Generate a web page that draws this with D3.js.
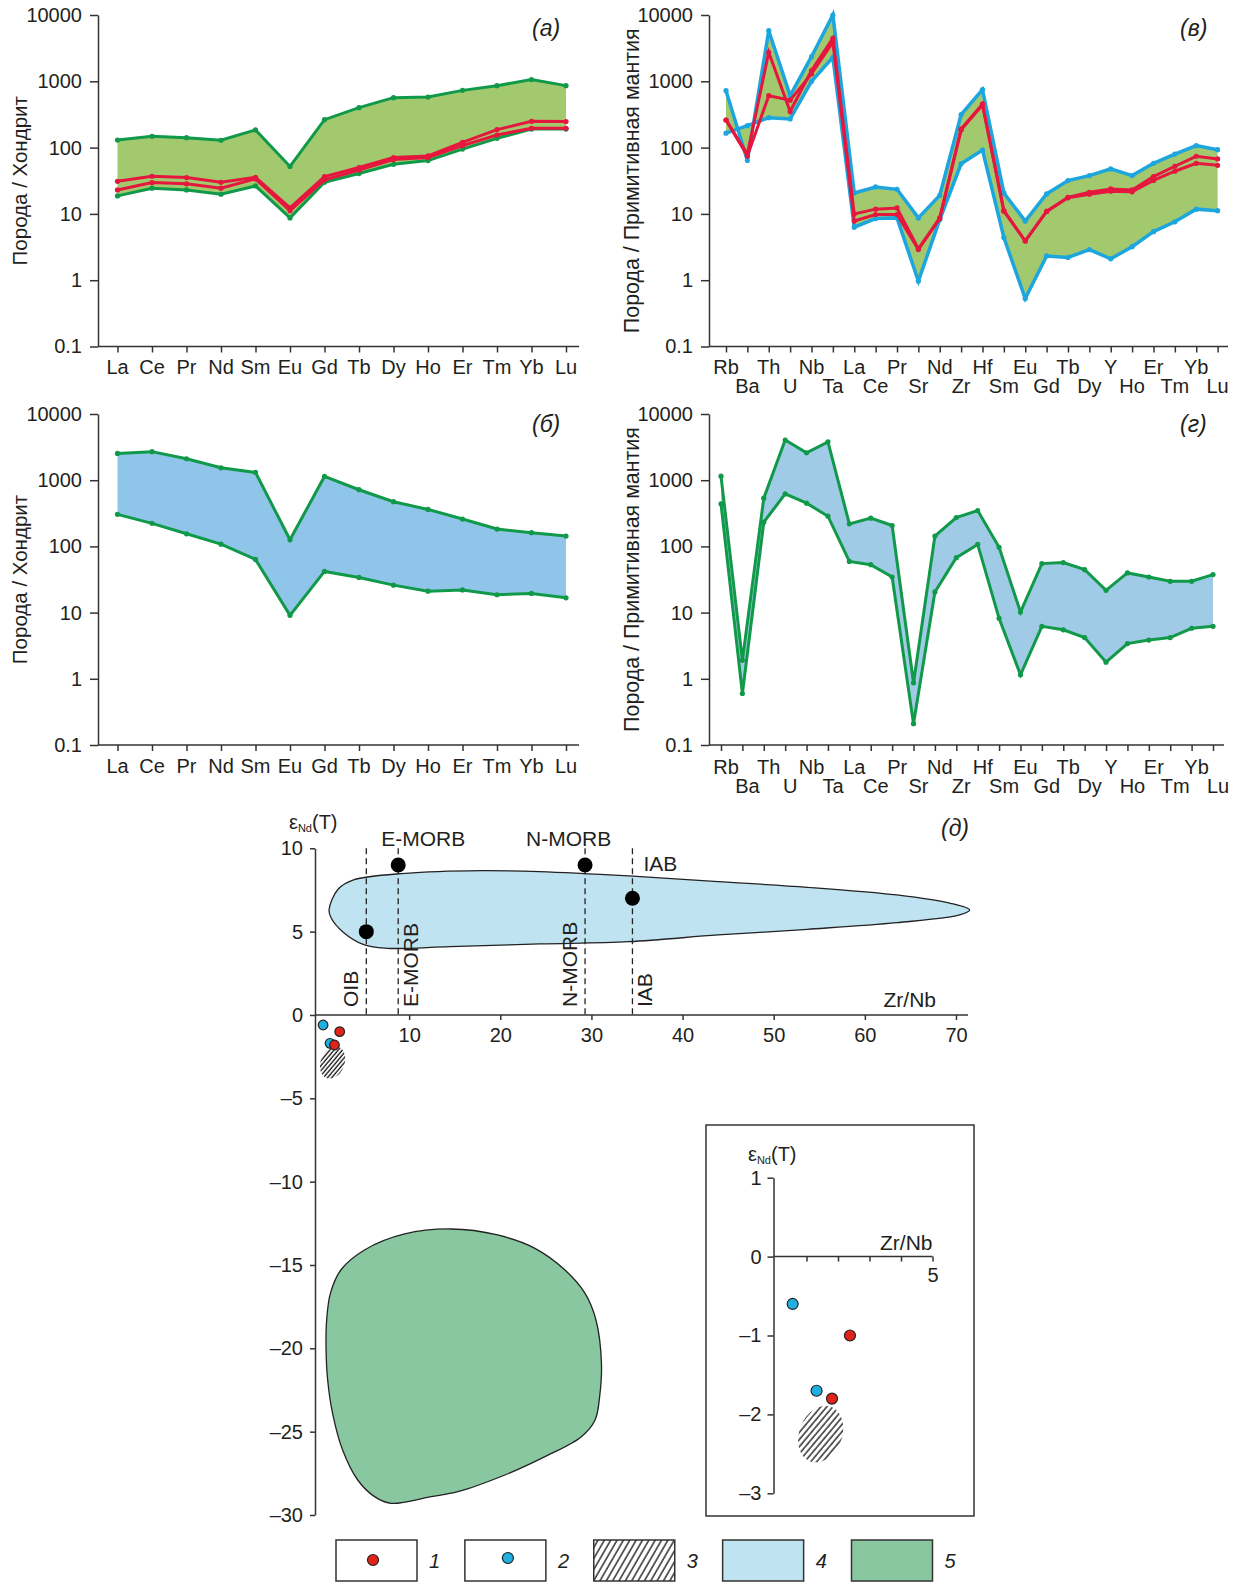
<!DOCTYPE html>
<html>
<head>
<meta charset="utf-8">
<script src="https://cdn.jsdelivr.net/npm/d3@7"></script>
<style>
  body { margin: 0; background: #fff; }
  svg { display: block; font-family: "Liberation Sans", Arial, sans-serif; }
</style>
</head>
<body>
<script>
// ---------- data ----------
const reeCats = ['La', 'Ce', 'Pr', 'Nd', 'Sm', 'Eu', 'Gd', 'Tb', 'Dy', 'Ho', 'Er', 'Tm', 'Yb', 'Lu'];
const spiderCats = ['Rb', 'Ba', 'Th', 'U', 'Nb', 'Ta', 'La', 'Ce', 'Pr', 'Sr', 'Nd', 'Zr', 'Hf', 'Sm',
    'Eu', 'Gd', 'Tb', 'Dy', 'Y', 'Ho', 'Er', 'Tm', 'Yb', 'Lu'];
const logTicks = [0.1, 1, 10, 100, 1000, 10000];

// (а) chondrite-normalised REE
const aGreenMax = [130, 148, 141, 129, 185, 52, 264, 400, 567, 580, 730, 860, 1060, 860];
const aGreenMin = [18.7, 24.4, 23, 19.8, 26.4, 8.7, 30, 40.6, 56, 63.7, 95, 138, 190, 190];
const aRed1 = [31, 37, 35.3, 30, 35.7, 12.3, 36.6, 50, 70.7, 74.9, 120, 187, 249, 247];
const aRed2 = [23, 29.7, 28.4, 24.4, 33.7, 11.2, 32.6, 46, 66, 70.7, 107, 155, 195, 195];

// (б)
const bMax = [2540, 2700, 2110, 1540, 1310, 126, 1140, 718, 473, 362, 259, 183, 161, 143];
const bMin = [305, 223, 155, 108, 63.6, 9.1, 41.9, 34, 26, 21.1, 22, 18.6, 19.5, 16.7];

// (в) primitive mantle normalised
const vBlueMax = [723, 64, 5800, 610, 2350, 10000, 20.7, 25.5, 23.5, 8.7, 19, 314, 750, 20.7,
    7.8, 20, 31.8, 37.8, 47.7, 37.8, 58, 80, 107, 93];
const vBlueMin = [165, 214, 283, 270, 1000, 2300, 6.3, 8.5, 8.7, 0.97, 8.2, 57, 92, 4.4,
    0.53, 2.32, 2.2, 2.9, 2.1, 3.2, 5.4, 7.6, 11.8, 11.2];
const vRed1 = [261, 80, 2740, 350, 1450, 4450, 10, 11.8, 12.3, 2.98, 8.7, 191, 455, 11.2,
    3.9, 10.9, 17.8, 21.2, 23.8, 23, 36.6, 52.3, 74, 67.5];
const vRed2 = [261, 75, 607, 520, 1290, 3900, 7.8, 9.8, 9.8, 2.9, 8.5, 185, 440, 11,
    3.9, 10.9, 17.5, 19.8, 22, 21.5, 32, 44, 58, 54];

// (г)
const gMax = [1150, 1.9, 535, 4050, 2600, 3800, 219, 267, 207, 0.87, 143, 273, 348, 97,
    10.2, 55, 57, 44.5, 21.7, 39.7, 34.5, 29.7, 29.7, 37.5];
const gMin = [440, 0.6, 232, 620, 450, 286, 59.4, 53, 34.5, 0.21, 20.5, 67.5, 107, 8.2,
    1.15, 6.2, 5.5, 4.2, 1.78, 3.4, 3.85, 4.2, 5.8, 6.2];

// (д) eNd(T) vs Zr/Nb
const xTicksD = [10, 20, 30, 40, 50, 60, 70];
const yTicksD = [-30, -25, -20, -15, -10, -5, 0, 5, 10];
const refNames = ['OIB', 'E-MORB', 'N-MORB', 'IAB'];
const refZrNb = [5.3, 8.8, 29.3, 34.5];
const refEps = [5, 9, 9, 7];
const sampleZrNb = [0.56, 1.32, 2.38, 1.81];
const sampleEps = [-0.6, -1.7, -1.0, -1.8];
const sampleType = [2, 2, 1, 1];
const field4 = [[1.21, 6.3], [2.2, 7.54], [3.9, 8.1], [9.6, 8.5], [17.9, 8.66], [24.3, 8.6], [34.1, 8.34],
    [43.9, 8.0], [53.7, 7.66], [63.5, 7.2], [69.4, 6.7], [71.5, 6.3], [70.4, 6.0], [63.5, 5.54],
    [53.7, 5.14], [43.9, 4.8], [34.1, 4.4], [24.3, 4.26], [14.5, 4.1], [7.6, 4.0], [5.1, 4.2],
    [2.7, 5.0], [1.46, 5.8]];
const field5 = [[14.6, -12.84], [9.5, -13.14], [5.1, -14.1], [2.5, -15.3], [1.36, -16.7], [0.95, -18.3],
    [0.88, -19.9], [1.06, -21.9], [1.6, -23.9], [2.7, -26.1], [4.36, -27.9], [6.2, -28.9], [8.0, -29.3],
    [12.4, -28.9], [15.35, -28.6], [20.5, -27.6], [24.9, -26.5], [28.9, -25.3], [30.4, -24.3],
    [30.9, -22.9], [31.1, -20.9], [30.5, -18.3], [29.3, -16.7], [27.1, -15.3], [23.8, -14.0], [19.7, -13.2]];
// hatched field 3: centre, half-axes (data units)
const field3Main = [1.6, -2.85, 1.3, 1.0];
const field3Inset = [1.45, -2.25, 0.68, 0.37];
const insetYTicks = [-3, -2, -1, 0, 1];
const insetXTicks = [1, 2, 3, 4, 5];
const legendNums = ['1', '2', '3', '4', '5'];

// ---------- colours ----------
const GREEN = '#11994a', LGREEN = '#a2c96e', RED = '#e5173f', BLUE = '#1da5de';
const AXIS = '#333', TXT = '#231f20';

const svg = d3.select('body').append('svg')
    .attr('width', 1237)
    .attr('height', 1582);

const defs = svg.append('defs');
function hatch(id, step, angle) {
    defs.append('pattern')
        .attr('id', id)
        .attr('patternUnits', 'userSpaceOnUse')
        .attr('width', step).attr('height', step)
        .attr('patternTransform', 'rotate(' + angle + ')')
        .call(p => {
            p.append('rect').attr('width', step).attr('height', step).attr('fill', '#fff');
            p.append('line').attr('x1', 1).attr('x2', 1).attr('y1', 0).attr('y2', step)
                .attr('stroke', '#111').attr('stroke-width', 1.3);
        });
}
hatch('hatchA', 3.2, 18);
hatch('hatchB', 4.6, 18);
hatch('hatchL', 5.5, 30);

function styleAxis(g) {
    g.attr('font-size', 20).attr('font-family', null);
    g.selectAll('path, line').attr('stroke', AXIS).attr('stroke-width', 1.5);
    g.selectAll('text').attr('fill', TXT);
}

function tag(x, y, letter) {
    svg.append('text')
        .attr('x', x).attr('y', y)
        .attr('font-size', 23)
        .attr('font-style', 'italic')
        .attr('fill', TXT)
        .text('(' + letter + ')');
}

// ---------- spider / REE panels ----------
function spider(p) {
    const g = svg.append('g');
    const y = d3.scaleLog().domain([0.1, 10000]).range([p.bottom, p.top]);
    const x = d3.scalePoint().domain(p.cats).range(p.xRange);

    g.append('g')
        .attr('transform', 'translate(' + p.axisX + ',0)')
        .call(d3.axisLeft(y).tickValues(logTicks).tickFormat(d => String(d))
            .tickSize(8).tickSizeOuter(0).tickPadding(8))
        .call(styleAxis);

    const xa = g.append('g')
        .attr('transform', 'translate(0,' + p.bottom + ')')
        .call(d3.axisBottom(x).tickSize(6).tickSizeOuter(0).tickFormat(''))
        .call(styleAxis);
    xa.select('.domain').remove();
    g.append('line')
        .attr('x1', p.axisX).attr('x2', p.axisEnd)
        .attr('y1', p.bottom).attr('y2', p.bottom)
        .attr('stroke', AXIS).attr('stroke-width', 1.5);

    g.selectAll('text.cat')
        .data(p.cats)
        .join('text')
        .attr('class', 'cat')
        .attr('x', d => x(d) + (p.labelShift || 0))
        .attr('y', (d, i) => p.labelY + (p.stagger && i % 2 ? p.stagger : 0))
        .attr('text-anchor', 'middle')
        .attr('font-size', 20)
        .attr('fill', TXT)
        .text(d => d);

    g.append('text')
        .attr('transform', 'translate(' + p.titleX + ',' + (p.top + p.bottom) / 2 + ') rotate(-90)')
        .attr('text-anchor', 'middle')
        .attr('font-size', p.titleSize)
        .attr('fill', TXT)
        .text(p.title);

    const area = d3.area()
        .x((d, i) => x(p.cats[i]))
        .y0(d => y(d[0]))
        .y1(d => y(d[1]));
    g.append('path')
        .datum(d3.zip(p.fill.min, p.fill.max))
        .attr('d', area)
        .attr('fill', p.fill.color);

    const line = d3.line()
        .x((d, i) => x(p.cats[i]))
        .y(d => y(d));
    p.lines.forEach(s => {
        g.append('path')
            .datum(s.v)
            .attr('d', line)
            .attr('fill', 'none')
            .attr('stroke', s.c)
            .attr('stroke-width', s.w);
        g.selectAll(null)
            .data(s.v)
            .join('circle')
            .attr('cx', (d, i) => x(p.cats[i]))
            .attr('cy', d => y(d))
            .attr('r', 2.6)
            .attr('fill', s.c);
    });
}

spider({
    cats: reeCats, xRange: [117.5, 566], axisX: 98, axisEnd: 579, top: 15, bottom: 346.5,
    labelY: 374, title: 'Порода / Хондрит', titleX: 27, titleSize: 20.5,
    fill: {min: aGreenMin, max: aGreenMax, color: LGREEN},
    lines: [{v: aGreenMax, c: GREEN, w: 3}, {v: aGreenMin, c: GREEN, w: 3},
        {v: aRed1, c: RED, w: 3}, {v: aRed2, c: RED, w: 3}]
});
tag(532, 36, 'а');

spider({
    cats: spiderCats, xRange: [726, 1217.6], axisX: 709, axisEnd: 1228, top: 15, bottom: 346.5,
    labelY: 374, stagger: 19, title: 'Порода / Примитивная мантия', titleX: 639, titleSize: 21.4,
    fill: {min: vBlueMin, max: vBlueMax, color: LGREEN},
    lines: [{v: vBlueMax, c: BLUE, w: 3.5}, {v: vBlueMin, c: BLUE, w: 3.5},
        {v: vRed1, c: RED, w: 3}, {v: vRed2, c: RED, w: 3}]
});
tag(1180, 36, 'в');

spider({
    cats: reeCats, xRange: [117.5, 566], axisX: 98, axisEnd: 579, top: 414, bottom: 745,
    labelY: 773, title: 'Порода / Хондрит', titleX: 27, titleSize: 20.5,
    fill: {min: bMin, max: bMax, color: '#8fc5e8'},
    lines: [{v: bMax, c: GREEN, w: 3}, {v: bMin, c: GREEN, w: 3}]
});
tag(532, 432, 'б');

spider({
    cats: spiderCats, xRange: [721, 1213], labelShift: 5, axisX: 709, axisEnd: 1224, top: 414, bottom: 745,
    labelY: 774, stagger: 19, title: 'Порода / Примитивная мантия', titleX: 639, titleSize: 21.4,
    fill: {min: gMin, max: gMax, color: '#a0cbe6'},
    lines: [{v: gMax, c: GREEN, w: 3}, {v: gMin, c: GREEN, w: 3}]
});
tag(1180, 432, 'г');

// ---------- (д) ----------
const dx = d3.scaleLinear().domain([0, 70]).range([318, 956]);
const dy = d3.scaleLinear().domain([-30, 10]).range([1515, 848.3]);
const minus = d => d < 0 ? '–' + (-d) : String(d);

const dg = svg.append('g');
const blob = (sx, sy) => d3.line().x(d => sx(d[0])).y(d => sy(d[1])).curve(d3.curveCatmullRomClosed);

dg.append('path')
    .datum(field5)
    .attr('d', blob(dx, dy))
    .attr('fill', '#88c79f')
    .attr('stroke', '#222')
    .attr('stroke-width', 1.3);

dg.append('path')
    .datum(field4)
    .attr('d', blob(dx, dy))
    .attr('fill', '#c0e3f2')
    .attr('stroke', '#222')
    .attr('stroke-width', 1.3);

dg.append('g')
    .attr('transform', 'translate(315,0)')
    .call(d3.axisLeft(dy).tickValues(yTicksD).tickFormat(minus).tickSize(5).tickSizeOuter(0).tickPadding(7))
    .call(styleAxis);

const dxa = dg.append('g')
    .attr('transform', 'translate(0,' + dy(0) + ')')
    .call(d3.axisBottom(dx).tickValues(xTicksD).tickSize(5).tickSizeOuter(0).tickPadding(8))
    .call(styleAxis);
dxa.select('.domain').remove();
dg.append('line')
    .attr('x1', 315).attr('x2', 968)
    .attr('y1', dy(0)).attr('y2', dy(0))
    .attr('stroke', AXIS).attr('stroke-width', 1.5);

// reference compositions: dashed lines, labels, dots
dg.selectAll('line.ref')
    .data(refZrNb)
    .join('line')
    .attr('x1', d => dx(d)).attr('x2', d => dx(d))
    .attr('y1', dy(10)).attr('y2', dy(0))
    .attr('stroke', '#222')
    .attr('stroke-width', 1.3)
    .attr('stroke-dasharray', '6,4');

// rotated labels next to the dashed lines
const rotOffset = [-8, 20, -8, 20];
dg.selectAll('text.rot')
    .data(refNames)
    .join('text')
    .attr('transform', (d, i) => 'translate(' + (dx(refZrNb[i]) + rotOffset[i]) + ',1007) rotate(-90)')
    .attr('font-size', 21)
    .attr('fill', TXT)
    .text(d => d);

// labels on top
const topOffset = [null, -17, -59, 11];
const topY = [null, 846, 846, 871];
refNames.forEach((n, i) => {
    if (topOffset[i] === null) return;
    dg.append('text')
        .attr('x', dx(refZrNb[i]) + topOffset[i])
        .attr('y', topY[i])
        .attr('font-size', 21)
        .attr('fill', TXT)
        .text(n);
});

dg.selectAll('circle.ref')
    .data(refZrNb)
    .join('circle')
    .attr('cx', d => dx(d))
    .attr('cy', (d, i) => dy(refEps[i]))
    .attr('r', 7.5)
    .attr('fill', '#000');

function ellipse(g, sx, sy, e, fill) {
    const cx = sx(e[0]), cy = sy(e[1]);
    g.append('ellipse')
        .attr('cx', cx).attr('cy', cy)
        .attr('rx', Math.abs(sx(e[2]) - sx(0)))
        .attr('ry', Math.abs(sy(e[3]) - sy(0)))
        .attr('transform', 'rotate(22,' + cx + ',' + cy + ')')
        .attr('fill', fill);
}

function samples(g, sx, sy, r) {
    g.selectAll(null)
        .data(sampleZrNb)
        .join('circle')
        .attr('cx', d => sx(d))
        .attr('cy', (d, i) => sy(sampleEps[i]))
        .attr('r', r)
        .attr('fill', (d, i) => sampleType[i] === 1 ? '#e2231a' : '#1fb0e0')
        .attr('stroke', '#222')
        .attr('stroke-width', 1.2);
}

ellipse(dg, dx, dy, field3Main, 'url(#hatchA)');
samples(dg, dx, dy, 4.8);

function epsLabel(g, x, y) {
    const t = g.append('text').attr('x', x).attr('y', y).attr('font-size', 20).attr('fill', TXT);
    t.append('tspan').text('ε');
    t.append('tspan').attr('font-size', 11).attr('dy', 3).text('Nd');
    t.append('tspan').attr('dy', -3).text('(T)');
}
epsLabel(dg, 289, 829);

dg.append('text')
    .attr('x', 936).attr('y', 1007)
    .attr('text-anchor', 'end')
    .attr('font-size', 21)
    .attr('fill', TXT)
    .text('Zr/Nb');
tag(941, 836, 'д');

// ---------- inset ----------
const ig = svg.append('g');
ig.append('rect')
    .attr('x', 706).attr('y', 1125)
    .attr('width', 268).attr('height', 391)
    .attr('fill', '#fff')
    .attr('stroke', AXIS)
    .attr('stroke-width', 1.5);

const ix = d3.scaleLinear().domain([0, 5]).range([775, 932.5]);
const iy = d3.scaleLinear().domain([-3, 1]).range([1493.3, 1177.7]);

ig.append('g')
    .attr('transform', 'translate(773.5,0)')
    .call(d3.axisLeft(iy).tickValues(insetYTicks).tickFormat(minus).tickSize(6).tickSizeOuter(0).tickPadding(6))
    .call(styleAxis);
const ixa = ig.append('g')
    .attr('transform', 'translate(0,' + iy(0) + ')')
    .call(d3.axisBottom(ix).tickValues(insetXTicks).tickFormat(d => d === 5 ? '5' : '')
        .tickSize(5).tickSizeOuter(0).tickPadding(6))
    .call(styleAxis);
ixa.select('.domain').remove();
ig.append('line')
    .attr('x1', 773.5).attr('x2', ix(5))
    .attr('y1', iy(0)).attr('y2', iy(0))
    .attr('stroke', AXIS).attr('stroke-width', 1.5);

ig.append('text')
    .attr('x', ix(5)).attr('y', 1250)
    .attr('text-anchor', 'end')
    .attr('font-size', 21)
    .attr('fill', TXT)
    .text('Zr/Nb');
epsLabel(ig, 748, 1161);

ellipse(ig, ix, iy, field3Inset, 'url(#hatchB)');
samples(ig, ix, iy, 5.5);

// ---------- legend ----------
const lg = svg.append('g');
const legX = d3.scalePoint().domain(legendNums).range([336, 851.5]);
const legFill = ['#fff', '#fff', 'url(#hatchL)', '#c0e3f2', '#88c79f'];
lg.selectAll('rect')
    .data(legendNums)
    .join('rect')
    .attr('x', d => legX(d))
    .attr('y', 1540)
    .attr('width', 81)
    .attr('height', 41)
    .attr('fill', (d, i) => legFill[i])
    .attr('stroke', AXIS)
    .attr('stroke-width', 1.5);
lg.selectAll('text')
    .data(legendNums)
    .join('text')
    .attr('x', d => legX(d) + 93)
    .attr('y', 1568)
    .attr('font-size', 20)
    .attr('font-style', 'italic')
    .attr('fill', TXT)
    .text(d => d);
lg.append('circle').attr('cx', legX('1') + 37).attr('cy', 1560).attr('r', 5.5)
    .attr('fill', '#e2231a').attr('stroke', '#222').attr('stroke-width', 1.2);
lg.append('circle').attr('cx', legX('2') + 43).attr('cy', 1558).attr('r', 5.5)
    .attr('fill', '#1fb0e0').attr('stroke', '#222').attr('stroke-width', 1.2);
</script>
</body>
</html>
